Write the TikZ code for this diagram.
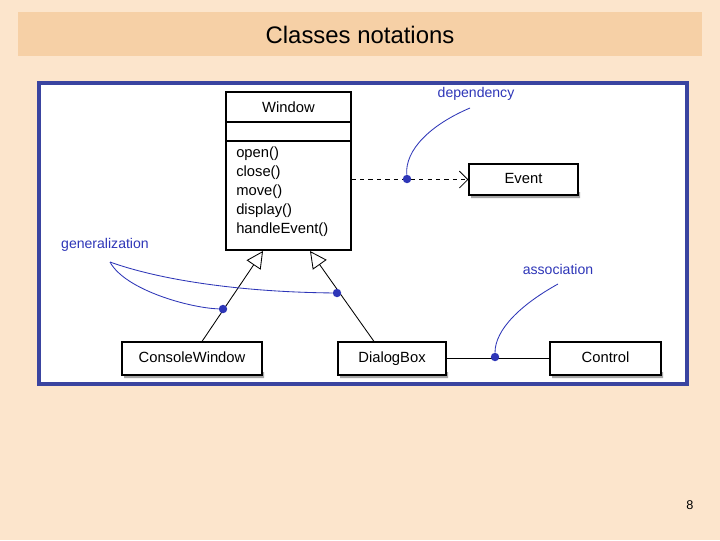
\documentclass[tikz,border=0pt]{standalone}
\usepackage{fontspec}
\setmainfont{Liberation Sans}
\usetikzlibrary{arrows.meta}
\definecolor{peach}{HTML}{FCE5CC}
\definecolor{titlebar}{HTML}{F6D0A6}
\definecolor{panelblue}{HTML}{3A44A0}
\definecolor{noteblue}{HTML}{2E36B8}

\begin{document}
\begin{tikzpicture}
	[x=0.025cm,y=-0.025cm,
	cls/.style={draw,thick,fill=white,inner sep=0pt,minimum height=33*0.025cm,text height=8pt,text depth=2pt,
		font=\fontsize{10.5}{12}\selectfont},
	shadow/.style={fill=gray!70},
	note/.style={text=noteblue,font=\fontsize{10}{12}\selectfont},
	pin/.style={noteblue,semithick},
	dot/.style={circle,fill=noteblue,inner sep=0pt,minimum size=6pt},
	gen/.style={-{Triangle[open,length=12pt,width=12pt]},semithick},
	dep/.style={dashed,-{Straight Barb[length=6pt,width=12pt]},semithick}]
	\useasboundingbox[fill=peach] (0,0) rectangle (720,540);
	\fill[titlebar] (18,12) rectangle (702,56);
	\node[font=\fontsize{17}{19}\selectfont] (title) at (360,35) {Classes notations};
	\draw[panelblue,line width=2.5pt,fill=white] (39,83) rectangle (687,384);
	% shadows
	\fill[shadow] (124,372) rectangle (264,378) (340,372) rectangle (448,378) (552,372) rectangle (663,378)
		(471,192) rectangle (580,198);
	% classes
	\node[cls,minimum width=125*0.025cm,minimum height=158*0.025cm] (window) at (288.5,171) {};
	\node[font=\fontsize{10.5}{12}\selectfont] (wname) at (288.5,107) {Window};
	\draw[thick] (226,122) -- (351,122) (226,141) -- (351,141);
	\node[anchor=north west,align=left,inner sep=0pt,font=\fontsize{10.5}{13.5}\selectfont] (wops) at (236,147)
		{open()\\close()\\move()\\display()\\handleEvent()};
	\node[cls,minimum width=109*0.025cm,minimum height=31*0.025cm] (event) at (523.5,179.5) {Event};
	\node[cls,minimum width=140*0.025cm] (console) at (192,358.5) {ConsoleWindow};
	\node[cls,minimum width=108*0.025cm] (dialog) at (392,358.5) {DialogBox};
	\node[cls,minimum width=111*0.025cm] (control) at (605.5,358.5) {Control};
	% relations
	\draw[dep] (window.east |- event) -- (event.west);
	\draw[gen] (console.north -| 202,0) -- (263,251);
	\draw[gen] (dialog.north -| 374,0) -- (310,251);
	\draw[semithick] (dialog) -- (control);
	% notes
	\node[note] (depnote) at (476,94) {dependency};
	\node[note] (gennote) at (105,245) {generalization};
	\node[note] (assocnote) at (558,269) {association};
	\node[dot] (ddot) at (407,179) {};
	\node[dot] (g1) at (223,309) {};
	\node[dot] (g2) at (337,293) {};
	\node[dot] (adot) at (495,357) {};
	\draw[pin] (470,108) .. controls (430,125) and (405,150) .. (ddot);
	\draw[pin] (110,262) .. controls (125,290) and (190,308) .. (g1);
	\draw[pin] (110,262) .. controls (160,280) and (240,292) .. (g2);
	\draw[pin] (558,284) .. controls (520,305) and (495,330) .. (adot);
	\node[font=\fontsize{9}{10}\selectfont] (page) at (690,505) {8};
\end{tikzpicture}
\end{document}
